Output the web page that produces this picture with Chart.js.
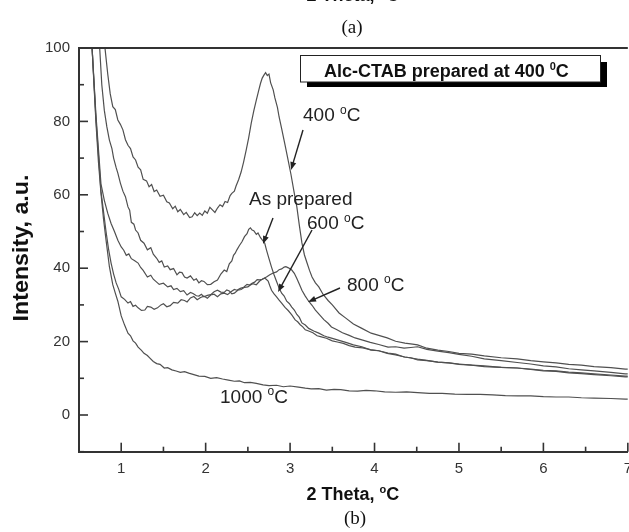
<!DOCTYPE html>
<html>
<head>
<meta charset="utf-8">
<script src="https://cdn.jsdelivr.net/npm/chart.js@4.4.1/dist/chart.umd.min.js"></script>
<style>
html, body { margin: 0; padding: 0; background: #fff; overflow: hidden; width: 629px; height: 532px; }
#wrap { width: 629px; height: 532px; overflow: hidden; }
</style>
</head>
<body>
<div id="wrap"><canvas id="c" width="640" height="532"></canvas></div>
<script>
// axis ticks
const xTicks = [1, 2, 3, 4, 5, 6, 7]
const yTicks = [0, 20, 40, 60, 80, 100]

// Alc-CTAB, as prepared
const xAsPrep = [0.72, 0.745, 0.77, 0.80, 0.83, 0.86, 0.89, 0.91, 0.94, 0.96, 0.99, 1.02, 1.05, 1.08, 1.10, 1.12, 1.15, 1.17, 1.20, 1.23, 1.27, 1.31, 1.35, 1.38, 1.42, 1.45, 1.48, 1.51, 1.55, 1.58, 1.62, 1.66, 1.69, 1.72, 1.75, 1.78, 1.82, 1.86, 1.89, 1.92, 1.95, 1.98, 2.02, 2.06, 2.10, 2.14, 2.18, 2.22, 2.25, 2.28, 2.31, 2.33, 2.35, 2.37, 2.40, 2.43, 2.46, 2.49, 2.51, 2.53, 2.55, 2.57, 2.60, 2.62, 2.65, 2.67, 2.70, 2.72, 2.75, 2.78, 2.81, 2.84, 2.87, 2.90, 2.93, 2.96, 2.99, 3.02, 3.05, 3.08, 3.11, 3.14, 3.18, 3.22, 3.28, 3.34, 3.40, 3.45, 3.51, 3.57, 3.66, 3.75, 3.85, 3.96, 4.05, 4.15, 4.25, 4.36, 4.51, 4.62, 4.75, 4.88, 5.0, 5.15, 5.3, 5.5, 5.69, 5.85, 6.0, 6.15, 6.3, 6.45, 6.6, 6.8, 6.97, 7.0]
const yAsPrep = [112, 100, 90, 83, 78.5, 74.9, 72.6, 70, 67.4, 65.9, 63.2, 61, 59.5, 56.7, 55.8, 52.5, 52.0, 50.4, 49.6, 47.6, 46.8, 45.0, 45.6, 43.8, 42.7, 41.6, 42.0, 40.3, 40.6, 39.6, 39.9, 38.2, 38.9, 38.8, 37.6, 37.3, 37.9, 36.7, 37.1, 36.0, 36.6, 36.4, 35.5, 35.6, 36.3, 36.8, 38.4, 39.5, 39.1, 41.2, 42.0, 43.5, 44.1, 45.0, 46.2, 47.2, 48.6, 49.4, 50.6, 51.0, 50.4, 50.2, 49.2, 49.6, 48.3, 47.7, 46.8, 45.0, 42.6, 40.3, 38.2, 36.4, 34.6, 33.2, 32.4, 31.0, 30.4, 29.4, 28.6, 27.4, 26.6, 25.1, 24.5, 23.6, 22.9, 22.3, 21.6, 21.2, 20.8, 20.4, 19.8, 19.1, 18.6, 17.7, 17.5, 16.8, 16.4, 15.8, 15.2, 14.9, 14.4, 14.2, 13.9, 13.6, 13.4, 13.0, 12.8, 12.5, 12.2, 12.0, 11.7, 11.5, 11.2, 10.9, 10.6, 10.6]

// 400 C
const x400 = [0.78, 0.81, 0.84, 0.87, 0.90, 0.93, 0.96, 0.99, 1.02, 1.05, 1.08, 1.11, 1.14, 1.17, 1.2, 1.23, 1.26, 1.30, 1.33, 1.36, 1.39, 1.42, 1.46, 1.5, 1.54, 1.57, 1.61, 1.64, 1.67, 1.7, 1.74, 1.77, 1.81, 1.84, 1.87, 1.9, 1.93, 1.96, 1.99, 2.02, 2.05, 2.08, 2.11, 2.14, 2.17, 2.2, 2.23, 2.26, 2.29, 2.31, 2.34, 2.36, 2.39, 2.42, 2.45, 2.48, 2.51, 2.54, 2.57, 2.6, 2.63, 2.65, 2.67, 2.69, 2.71, 2.73, 2.75, 2.77, 2.8, 2.82, 2.85, 2.87, 2.9, 2.94, 2.97, 3.01, 3.05, 3.08, 3.11, 3.14, 3.17, 3.2, 3.23, 3.26, 3.3, 3.34, 3.39, 3.45, 3.5, 3.58, 3.66, 3.75, 3.85, 3.96, 4.05, 4.15, 4.25, 4.36, 4.45, 4.51, 4.62, 4.75, 4.88, 5.0, 5.15, 5.3, 5.5, 5.69, 5.85, 6.0, 6.15, 6.3, 6.45, 6.6, 6.8, 6.97, 7.0]
const y400 = [108, 99.5, 93, 87.5, 84, 83.2, 80.4, 79.2, 77.7, 75.0, 73.5, 72.6, 70.3, 69.5, 67.5, 66.8, 64.2, 63.8, 62.2, 62.8, 60.9, 61.3, 59.6, 59.9, 58.1, 57.8, 56.2, 56.9, 55.4, 56.0, 54.6, 55.2, 53.8, 54.0, 55.1, 54.3, 55.0, 54.4, 55.6, 55.0, 56.6, 55.9, 55.2, 56.4, 57.3, 56.8, 58.2, 57.9, 59.8, 60.4, 61.0, 62.4, 64.1, 66.2, 69.0, 72.2, 75.6, 79.5, 82.9, 85.8, 88.6, 90.4, 91.8, 92.6, 93.3, 92.5, 92.9, 90.5, 88.6, 86.4, 83.8, 81.2, 78.0, 73.6, 70.2, 65.6, 60.4, 56.7, 51.6, 46.9, 43.6, 41.5, 39.4, 37.6, 36.0, 34.9, 32.9, 31.2, 30.0, 27.8, 26.4, 24.8, 23.6, 22.3, 21.7, 21.0, 20.1, 19.6, 19.3, 19.1, 18.2, 17.7, 17.3, 16.8, 16.6, 16.1, 15.6, 15.3, 14.8, 14.5, 14.2, 13.8, 13.6, 13.2, 12.9, 12.5, 12.5]

// 600 C
const x600 = [0.62, 0.655, 0.70, 0.76, 0.82, 0.85, 0.88, 0.91, 0.94, 0.97, 1.0, 1.04, 1.08, 1.11, 1.14, 1.17, 1.2, 1.24, 1.28, 1.31, 1.35, 1.39, 1.43, 1.47, 1.5, 1.54, 1.58, 1.62, 1.67, 1.71, 1.75, 1.78, 1.82, 1.86, 1.9, 1.94, 1.98, 2.02, 2.06, 2.10, 2.14, 2.18, 2.22, 2.26, 2.3, 2.34, 2.37, 2.41, 2.45, 2.49, 2.52, 2.55, 2.58, 2.61, 2.64, 2.67, 2.7, 2.72, 2.74, 2.76, 2.78, 2.81, 2.84, 2.87, 2.90, 2.94, 2.98, 3.02, 3.06, 3.09, 3.12, 3.15, 3.18, 3.22, 3.27, 3.32, 3.37, 3.43, 3.5, 3.56, 3.63, 3.7, 3.77, 3.86, 3.95, 4.05, 4.16, 4.25, 4.35, 4.43, 4.51, 4.62, 4.75, 4.88, 5.0, 5.15, 5.3, 5.5, 5.69, 5.85, 6.0, 6.15, 6.3, 6.45, 6.6, 6.8, 6.97, 7.0]
const y600 = [112, 100, 81, 61, 50, 45.2, 41.4, 38.4, 36, 34.3, 32.2, 31.5, 30.5, 30.9, 29.6, 29.9, 29.2, 28.5, 28.6, 29.6, 29.4, 28.8, 29.2, 30.0, 30.3, 29.5, 29.8, 30.7, 30.5, 31.4, 31.2, 30.8, 31.9, 32.3, 31.4, 32.0, 32.4, 31.8, 32.7, 32.9, 32.2, 33.0, 33.2, 32.8, 33.6, 34.2, 34, 34.5, 34.8, 35.6, 35.4, 35.9, 36.2, 36.9, 36.8, 37.0, 37.3, 36.9, 36.5, 35.2, 34, 33.0, 32.2, 31.3, 30.5, 29.3, 28.4, 27.3, 25.9, 25.4, 24.6, 24.0, 23.2, 22.9, 22.4, 21.6, 21.3, 20.9, 20.2, 19.9, 19.5, 18.9, 18.5, 18.3, 17.8, 17.5, 16.9, 16.6, 15.8, 15.6, 15.0, 14.8, 14.4, 14.2, 13.8, 13.6, 13.2, 13.0, 12.8, 12.4, 12.0, 11.9, 11.5, 11.3, 11.0, 10.7, 10.4, 10.4]

// 800 C
const x800 = [0.62, 0.655, 0.70, 0.76, 0.80, 0.84, 0.88, 0.92, 0.96, 1.0, 1.03, 1.06, 1.09, 1.12, 1.16, 1.2, 1.23, 1.26, 1.31, 1.35, 1.38, 1.42, 1.45, 1.5, 1.55, 1.59, 1.62, 1.66, 1.7, 1.74, 1.78, 1.82, 1.85, 1.89, 1.92, 1.95, 1.98, 2.02, 2.06, 2.10, 2.14, 2.18, 2.22, 2.25, 2.28, 2.31, 2.34, 2.38, 2.42, 2.46, 2.5, 2.53, 2.56, 2.6, 2.64, 2.68, 2.72, 2.76, 2.8, 2.84, 2.87, 2.9, 2.93, 2.95, 2.98, 3.02, 3.05, 3.08, 3.11, 3.14, 3.18, 3.22, 3.26, 3.30, 3.35, 3.4, 3.45, 3.49, 3.55, 3.62, 3.7, 3.77, 3.86, 3.95, 4.05, 4.16, 4.25, 4.35, 4.43, 4.51, 4.62, 4.75, 4.88, 5.0, 5.15, 5.3, 5.5, 5.69, 5.85, 6.0, 6.15, 6.3, 6.45, 6.6, 6.8, 6.97, 7.0]
const y800 = [112, 100, 82, 63, 58.5, 55, 52.2, 50, 47.6, 45.8, 44.9, 43.5, 43.9, 42.6, 42.0, 41.4, 40.2, 39.4, 37.6, 38.1, 37.0, 36.2, 35.6, 35.9, 34.9, 35.2, 34.2, 34.5, 33.6, 33.9, 32.7, 33.4, 33.1, 32.5, 32.4, 32.9, 32.2, 32.6, 32.8, 33.6, 34.0, 33.5, 33.4, 34.1, 33.8, 33.0, 33.2, 34.0, 34.2, 34.8, 34.9, 35.4, 35.8, 35.5, 36.5, 37.1, 37.6, 38.2, 38.7, 39.0, 39.6, 39.8, 40.3, 40.4, 40.1, 39.5, 38.6, 37.2, 35.6, 34.0, 32.4, 31.0, 29.9, 28.6, 27.3, 26.0, 25.0, 24.0, 23.3, 22.4, 21.7, 21.0, 20.4, 19.8, 19.2, 18.5, 18.6, 18.2, 18.4, 18.6, 17.9, 17.4, 17.0, 16.5, 16.0, 15.3, 14.8, 14.3, 13.9, 13.4, 13.1, 12.6, 12.3, 12.0, 11.6, 11.2, 11.2]

// 1000 C
const x1000 = [0.62, 0.655, 0.70, 0.73, 0.76, 0.79, 0.82, 0.86, 0.90, 0.93, 0.96, 1.00, 1.04, 1.08, 1.11, 1.14, 1.17, 1.20, 1.24, 1.27, 1.31, 1.34, 1.38, 1.42, 1.46, 1.51, 1.55, 1.60, 1.65, 1.70, 1.75, 1.80, 1.86, 1.92, 1.99, 2.06, 2.13, 2.20, 2.27, 2.34, 2.40, 2.46, 2.53, 2.60, 2.68, 2.75, 2.84, 2.92, 3.0, 3.1, 3.18, 3.25, 3.34, 3.43, 3.52, 3.6, 3.7, 3.8, 3.9, 4.0, 4.12, 4.25, 4.38, 4.51, 4.65, 4.8, 4.95, 5.1, 5.25, 5.4, 5.55, 5.7, 5.85, 6.0, 6.15, 6.3, 6.45, 6.6, 6.8, 6.97, 7.0]
const y1000 = [112, 100, 80, 69, 60.5, 53.5, 47.7, 40.4, 35.5, 33.2, 31, 27, 24.5, 22.3, 21.6, 20.2, 19.6, 18.5, 17.6, 16.8, 16.2, 15.5, 14.6, 14.0, 13.8, 12.8, 12.9, 12.3, 12.0, 11.6, 11.8, 11.4, 11.0, 10.6, 10.5, 10.0, 10.2, 9.8, 9.5, 9.2, 9.3, 8.8, 8.9, 8.6, 8.2, 8.0, 8.1, 7.7, 7.9, 7.6, 7.3, 7.1, 7.2, 6.8, 7.0, 6.9, 6.6, 6.5, 6.7, 6.6, 6.3, 6.2, 6.3, 6.1, 5.9, 5.9, 5.7, 5.6, 5.6, 5.5, 5.3, 5.2, 5.2, 5.0, 4.9, 4.9, 4.7, 4.6, 4.5, 4.3, 4.3]

const FONT = 'Arial, "Liberation Sans", sans-serif'
const SERIF = '"Times New Roman", "Liberation Serif", serif'
const LINE = '#505050'

function pts(xs, ys) {
    return xs.map((x, i) => ({ x: x, y: ys[i] }))
}

function series(label, xs, ys) {
    return {
        label: label,
        data: pts(xs, ys),
        borderColor: LINE,
        borderWidth: 1.2,
        pointRadius: 0,
        tension: 0,
        fill: false
    }
}

// text with a small raised "o" / "0" before the last letter
function degText(ctx, x, y, pre, sup, post, size, bold) {
    const w = bold ? 'bold ' : ''
    ctx.font = w + size + 'px ' + FONT
    ctx.fillText(pre, x, y)
    let cx = x + ctx.measureText(pre).width
    ctx.font = w + Math.round(size * 0.62) + 'px ' + FONT
    ctx.fillText(sup, cx, y - size * 0.38)
    cx += ctx.measureText(sup).width
    ctx.font = w + size + 'px ' + FONT
    ctx.fillText(post, cx, y)
}

function arrow(ctx, x1, y1, x2, y2) {
    const a = Math.atan2(y2 - y1, x2 - x1)
    const L = 8, W = 3
    ctx.beginPath()
    ctx.moveTo(x1, y1)
    ctx.lineTo(x2 - Math.cos(a) * L * 0.6, y2 - Math.sin(a) * L * 0.6)
    ctx.stroke()
    ctx.beginPath()
    ctx.moveTo(x2, y2)
    ctx.lineTo(x2 - Math.cos(a) * L - Math.sin(a) * W, y2 - Math.sin(a) * L + Math.cos(a) * W)
    ctx.lineTo(x2 - Math.cos(a) * L + Math.sin(a) * W, y2 - Math.sin(a) * L - Math.cos(a) * W)
    ctx.closePath()
    ctx.fill()
}

const decor = {
    id: 'decor',
    afterDraw(chart) {
        const ctx = chart.ctx
        const area = chart.chartArea
        const xs = chart.scales.x
        const ys = chart.scales.y
        ctx.save()

        // top frame line
        ctx.strokeStyle = '#333'
        ctx.lineWidth = 2
        ctx.beginPath()
        ctx.moveTo(area.left - 1, area.top)
        ctx.lineTo(area.right, area.top)
        ctx.stroke()

        // inward tick marks
        ctx.lineWidth = 1.6
        for (let v = -10; v <= 100; v += 10) {
            const p = ys.getPixelForValue(v)
            const len = v % 20 === 0 ? 9 : 5
            ctx.beginPath()
            ctx.moveTo(area.left, p)
            ctx.lineTo(area.left + len, p)
            ctx.stroke()
        }
        for (let v = 0.5; v <= 7; v += 0.5) {
            const p = xs.getPixelForValue(v)
            const len = Number.isInteger(v) ? 9 : 5
            ctx.beginPath()
            ctx.moveTo(p, area.bottom)
            ctx.lineTo(p, area.bottom - len)
            ctx.stroke()
        }

        // axis titles
        ctx.fillStyle = '#111'
        ctx.textBaseline = 'alphabetic'
        ctx.textAlign = 'left'
        ctx.font = 'bold 18px ' + FONT
        let w = ctx.measureText('2 Theta, C').width + 7
        degText(ctx, 353 - w / 2, 500, '2 Theta, ', 'o', 'C', 18, true)
        degText(ctx, 353 - w / 2, 1, '2 Theta, ', 'o', 'C', 18, true)

        ctx.save()
        ctx.translate(22, 248)
        ctx.rotate(-Math.PI / 2)
        ctx.font = 'bold 22px ' + FONT
        const tw = ctx.measureText('Intensity, a.u.').width
        ctx.scale(147 / tw, 1)
        ctx.textAlign = 'center'
        ctx.textBaseline = 'middle'
        ctx.fillText('Intensity, a.u.', 0, 0)
        ctx.restore()

        // panel captions
        ctx.font = '19px ' + SERIF
        ctx.textAlign = 'center'
        ctx.textBaseline = 'middle'
        ctx.fillText('(a)', 352, 28)
        ctx.fillText('(b)', 355, 519)

        // title box with shadow
        ctx.fillStyle = '#000'
        ctx.fillRect(307, 62, 300, 25)
        ctx.fillStyle = '#fff'
        ctx.fillRect(300, 55, 300, 27)
        ctx.strokeStyle = '#222'
        ctx.lineWidth = 1
        ctx.strokeRect(300.5, 55.5, 300, 26.5)
        ctx.fillStyle = '#111'
        ctx.textAlign = 'left'
        ctx.textBaseline = 'alphabetic'
        degText(ctx, 324, 77, 'Alc-CTAB prepared at 400 ', '0', 'C', 18, true)

        // curve labels
        ctx.fillStyle = '#222'
        degText(ctx, 303, 121, '400 ', 'o', 'C', 19, false)
        ctx.font = '19px ' + FONT
        ctx.fillText('As prepared', 249, 205)
        degText(ctx, 307, 229, '600 ', 'o', 'C', 19, false)
        degText(ctx, 347, 290.5, '800 ', 'o', 'C', 19, false)
        degText(ctx, 220, 402.5, '1000 ', 'o', 'C', 19, false)

        // arrows
        ctx.strokeStyle = '#222'
        ctx.fillStyle = '#222'
        ctx.lineWidth = 1.4
        arrow(ctx, 303, 130, 291, 170)
        arrow(ctx, 273, 218, 263, 244)
        arrow(ctx, 312, 230, 278, 292)
        arrow(ctx, 340, 288, 308, 302)

        ctx.restore()
    }
}

const chart = new Chart(document.getElementById('c').getContext('2d'), {
    type: 'line',
    data: {
        datasets: [
            series('As prepared', xAsPrep, yAsPrep),
            series('400 C', x400, y400),
            series('600 C', x600, y600),
            series('800 C', x800, y800),
            series('1000 C', x1000, y1000)
        ]
    },
    options: {
        responsive: false,
        animation: false,
        layout: { padding: { top: 48, right: 9, left: 0, bottom: 0 } },
        plugins: {
            legend: { display: false },
            tooltip: { enabled: false }
        },
        scales: {
            x: {
                type: 'linear',
                min: 0.5,
                max: 7,
                grid: { display: false, drawTicks: false },
                border: { display: true, color: '#333', width: 2 },
                ticks: { color: '#333', font: { family: FONT, size: 15 }, padding: 8, maxRotation: 0 },
                afterBuildTicks: s => { s.ticks = xTicks.map(v => ({ value: v })) },
                afterFit: s => { s.height = 80.3 }
            },
            y: {
                min: -10,
                max: 100,
                grid: { display: false, drawTicks: false },
                border: { display: true, color: '#333', width: 2 },
                ticks: { color: '#333', font: { family: FONT, size: 15 }, padding: 9 },
                afterBuildTicks: s => { s.ticks = yTicks.map(v => ({ value: v })) },
                afterFit: s => { s.width = 79 }
            }
        }
    },
    plugins: [decor]
})
</script>
</body>
</html>
